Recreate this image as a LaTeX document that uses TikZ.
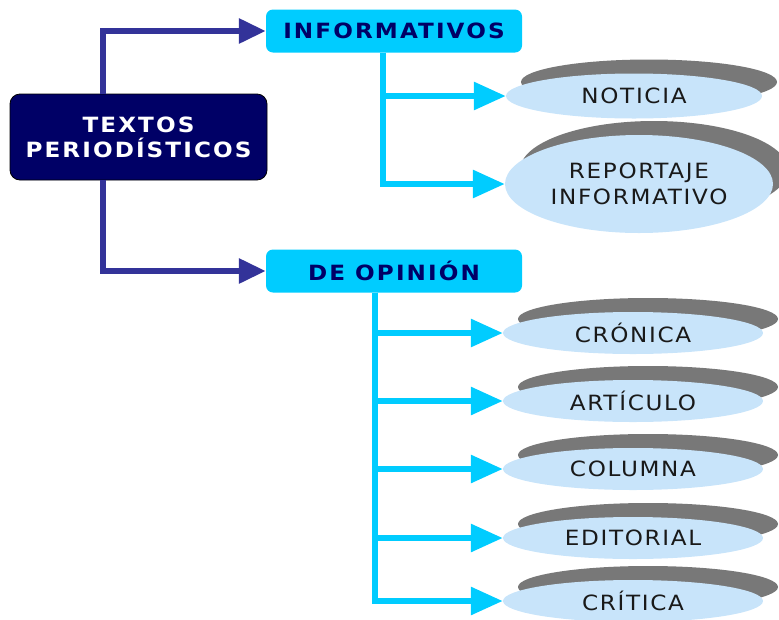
\documentclass[tikz,border=0pt]{standalone}
\usepackage{fontspec}
\setmainfont{DejaVu Sans}
\newfontfamily\lblfont[LetterSpace=8,FakeStretch=1.1]{DejaVu Sans}
\newfontfamily\boldlblfont[LetterSpace=10,FakeStretch=1.1]{DejaVu Sans Bold}
\usetikzlibrary{arrows.meta,shapes.geometric,shadows}
\definecolor{navybox}{RGB}{0,0,102}
\definecolor{darkline}{RGB}{51,51,153}
\definecolor{cyanbox}{RGB}{0,204,255}
\definecolor{ellfill}{RGB}{200,228,250}
\definecolor{shadowgray}{RGB}{120,120,120}
\definecolor{elltext}{RGB}{25,25,25}
\tikzset{
  mainbox/.style={draw=black,line width=0.8pt,fill=navybox,rounded corners=10pt,
    minimum width=257pt,minimum height=86pt,inner sep=0pt,align=center,
    text=white,font=\boldlblfont\fontsize{21pt}{25pt}\selectfont},
  catbox/.style={fill=cyanbox,rounded corners=7pt,minimum width=256pt,minimum height=43pt,
    inner sep=0pt,text=navybox,font=\boldlblfont\fontsize{21pt}{25pt}\selectfont},
  leaf/.style={ellipse,fill=ellfill,inner sep=0pt,align=center,text=elltext,
    font=\lblfont\fontsize{21pt}{26pt}\selectfont,
    general shadow={fill=shadowgray,shadow xshift=15pt,shadow yshift=14pt}},
  darkconn/.style={draw=darkline,line width=6pt,-{Triangle[length=27pt,width=24pt]}},
  cyanconn/.style={draw=cyanbox,line width=6pt,-{Triangle[length=32pt,width=27pt]}}
}
\begin{document}
\begin{tikzpicture}[x=1pt,y=-1pt]
\useasboundingbox (0,0) rectangle (779,619);
% nodes
\node[mainbox] (main) at (138.5,137) {TEXTOS\\PERIODÍSTICOS};
\node[catbox] (info) at (394,31) {INFORMATIVOS};
\node[catbox] (opin) at (394,271) {DE OPINIÓN};
\node[leaf,minimum width=256pt,minimum height=45pt] (noticia) at (634,96) {NOTICIA};
\node[leaf,minimum width=268pt,minimum height=98pt] (report) at (639,184) {REPORTAJE\\INFORMATIVO};
\node[leaf,minimum width=260pt,minimum height=42pt] (cronica) at (633,333) {CRÓNICA};
\node[leaf,minimum width=260pt,minimum height=42pt] (articulo) at (633,401) {ARTÍCULO};
\node[leaf,minimum width=260pt,minimum height=42pt] (columna) at (633,469) {COLUMNA};
\node[leaf,minimum width=260pt,minimum height=42pt] (editorial) at (633,538) {EDITORIAL};
\node[leaf,minimum width=260pt,minimum height=42pt] (critica) at (633,601) {CRÍTICA};
% dark connectors
\draw[darkconn] ([xshift=-35.5pt]main.north) |- (info.west);
\draw[darkconn] ([xshift=-35.5pt]main.south) |- (opin.west);
% cyan connectors
\draw[cyanconn] ([xshift=-11pt]info.south) |- (noticia.west);
\draw[cyanconn] ([xshift=-11pt]info.south) |- (report.west);
\draw[cyanconn] ([xshift=-19pt]opin.south) |- (cronica.west);
\draw[cyanconn] ([xshift=-19pt]opin.south) |- (articulo.west);
\draw[cyanconn] ([xshift=-19pt]opin.south) |- (columna.west);
\draw[cyanconn] ([xshift=-19pt]opin.south) |- (editorial.west);
\draw[cyanconn] ([xshift=-19pt]opin.south) |- (critica.west);
\end{tikzpicture}
\end{document}
